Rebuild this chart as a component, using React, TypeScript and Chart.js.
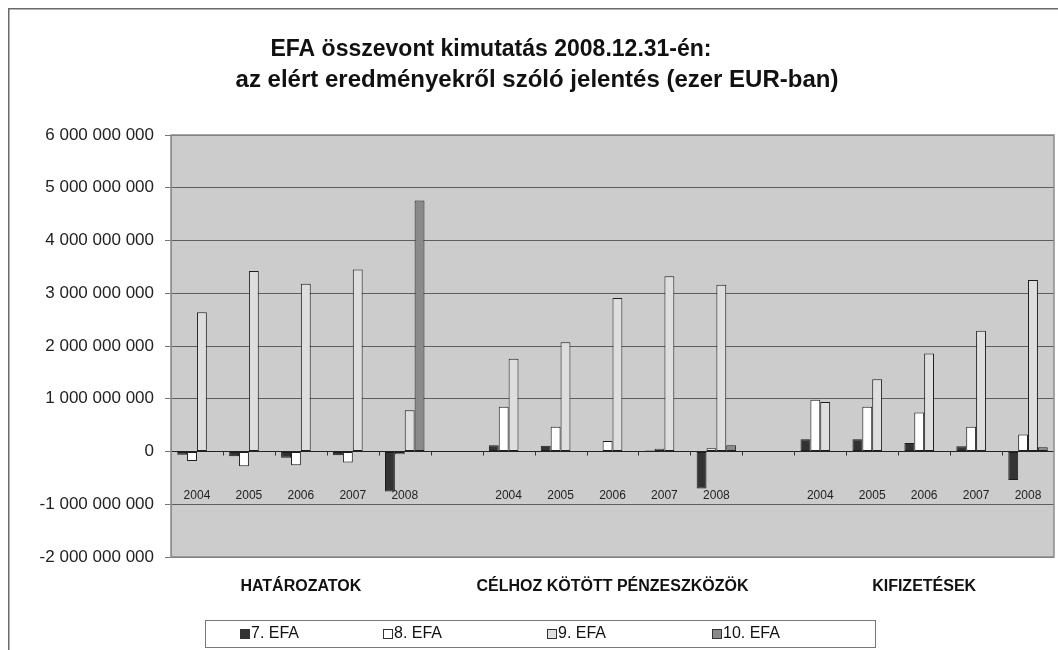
import React, { useEffect, useRef } from 'react';
import { Chart, registerables } from 'chart.js';

Chart.register(...registerables);

const FONT = '"Liberation Sans", Arial, Helvetica, sans-serif';

const TITLE_LINES = [
  'EFA összevont kimutatás 2008.12.31-én:',
  'az elért eredményekről szóló jelentés (ezer EUR-ban)',
];
const GROUPS = ['HATÁROZATOK', 'CÉLHOZ KÖTÖTT PÉNZESZKÖZÖK', 'KIFIZETÉSEK'];
const YEARS = ['2004', '2005', '2006', '2007', '2008'];
const SERIES = ['7. EFA', '8. EFA', '9. EFA', '10. EFA'];
const COLORS = ['#333333', '#ffffff', '#dedede', '#8a8a8a'];

// category order: HATÁROZATOK 2004-2008, gap, CÉLHOZ ... 2004-2008, gap, KIFIZETÉSEK 2004-2008
const EFA7 = [-60e6, -90e6, -120e6, -70e6, -760e6, null, 120e6, 110e6, 10e6, 20e6, -700e6, null, 230e6, 230e6, 160e6, 100e6, -540e6];
const EFA8 = [-180e6, -280e6, -260e6, -210e6, -50e6, null, 850e6, 470e6, 200e6, 50e6, 60e6, null, 980e6, 850e6, 740e6, 470e6, 320e6];
const EFA9 = [2640e6, 3420e6, 3180e6, 3450e6, 780e6, null, 1760e6, 2070e6, 2910e6, 3320e6, 3160e6, null, 940e6, 1370e6, 1860e6, 2290e6, 3250e6];
const EFA10 = [null, null, null, null, 4760e6, null, null, null, null, null, 120e6, null, null, null, null, null, 80e6];

const Y_MIN = -2e9;
const Y_MAX = 6e9;
const Y_STEP = 1e9;

const CATEGORIES: string[] = [];
GROUPS.forEach((g, gi) => {
  if (gi > 0) CATEGORIES.push('');
  YEARS.forEach((y) => CATEGORIES.push(y));
});

const fmt = (v: number) => Math.round(v).toString().replace(/\B(?=(\d{3})+(?!\d))/g, ' ');

const decor = {
  id: 'decor',
  beforeDraw(chart: any) {
    const { ctx, chartArea: a, width, height } = chart;
    ctx.save();
    ctx.fillStyle = '#ffffff';
    ctx.fillRect(0, 0, width, height);
    ctx.fillStyle = '#cccccc';
    ctx.fillRect(a.left, a.top, a.right - a.left, a.bottom - a.top);
    ctx.strokeStyle = '#6a6a6a';
    ctx.lineWidth = 1.5;
    ctx.beginPath();
    ctx.moveTo(8.75, height);
    ctx.lineTo(8.75, 8.75);
    ctx.lineTo(width, 8.75);
    ctx.stroke();
    ctx.restore();
  },
  afterDraw(chart: any) {
    const { ctx, chartArea: a } = chart;
    const xs = chart.scales.x;
    const ys = chart.scales.y;
    const y0 = ys.getPixelForValue(0);
    ctx.save();
    // plot border
    ctx.strokeStyle = '#8c8c8c';
    ctx.lineWidth = 1.5;
    ctx.strokeRect(a.left, a.top, a.right - a.left, a.bottom - a.top);
    // category tick marks at zero line
    ctx.strokeStyle = '#333';
    ctx.lineWidth = 1;
    for (let i = 1; i < CATEGORIES.length; i++) {
      const x = Math.round((xs.getPixelForValue(i - 1) + xs.getPixelForValue(i)) / 2) + 0.5;
      ctx.beginPath();
      ctx.moveTo(x, y0);
      ctx.lineTo(x, y0 + 4);
      ctx.stroke();
    }
    // year labels
    ctx.fillStyle = '#222';
    ctx.font = `12px ${FONT}`;
    ctx.textAlign = 'center';
    ctx.textBaseline = 'middle';
    CATEGORIES.forEach((c, i) => {
      if (c) ctx.fillText(c, xs.getPixelForValue(i), y0 + 44);
    });
    // group labels
    ctx.fillStyle = '#111';
    ctx.font = `bold 16px ${FONT}`;
    GROUPS.forEach((g, gi) => {
      const idx = gi * (YEARS.length + 1) + Math.floor(YEARS.length / 2);
      ctx.fillText(g, xs.getPixelForValue(idx), 587);
    });
    // title
    ctx.fillStyle = '#111';
    ctx.font = `bold 23px ${FONT}`;
    ctx.fillText(TITLE_LINES[0], 491, 50);
    ctx.font = `bold 24px ${FONT}`;
    ctx.fillText(TITLE_LINES[1], 537, 80);
    // legend
    ctx.fillStyle = '#fff';
    ctx.fillRect(205, 620, 670, 27);
    ctx.strokeStyle = '#777';
    ctx.lineWidth = 1;
    ctx.strokeRect(205.5, 620.5, 670, 27);
    const lx = [240, 383, 547, 712];
    ctx.font = `16px ${FONT}`;
    ctx.textAlign = 'left';
    chart.data.datasets.forEach((ds: any, i: number) => {
      const x = lx[i];
      ctx.fillStyle = ds.backgroundColor;
      ctx.fillRect(x, 629, 9, 9);
      ctx.strokeStyle = '#333';
      ctx.strokeRect(x + 0.5, 629.5, 9, 9);
      ctx.fillStyle = '#111';
      ctx.fillText(ds.label, x + 11, 634);
    });
    ctx.restore();
  },
};

export default function App() {
  const ref = useRef<HTMLCanvasElement>(null);
  useEffect(() => {
    const seriesData = [EFA7, EFA8, EFA9, EFA10];
    const chart = new Chart(ref.current as HTMLCanvasElement, {
      type: 'bar',
      data: {
        labels: CATEGORIES,
        datasets: SERIES.map((s, i) => ({
          label: s,
          data: seriesData[i] as any,
          backgroundColor: COLORS[i],
          borderColor: '#1e1e1e',
          borderWidth: 1,
          borderSkipped: false,
          categoryPercentage: 0.76,
          barPercentage: 1,
        })),
      },
      options: {
        responsive: false,
        animation: false,
        devicePixelRatio: 1,
        layout: { padding: { top: 135, bottom: 93, left: 0, right: 4 } },
        plugins: {
          legend: { display: false },
          title: { display: false },
          tooltip: { enabled: false },
        },
        scales: {
          x: {
            display: false,
          },
          y: {
            min: Y_MIN,
            max: Y_MAX,
            ticks: {
              stepSize: Y_STEP,
              callback: (v: any) => fmt(Number(v)),
              font: { family: FONT, size: 17 },
              color: '#222',
              padding: 11,
            },
            grid: {
              color: (c: any) => (c.tick && c.tick.value === 0 ? '#222' : '#5e5e5e'),
              tickLength: 6,
              tickColor: '#777',
              lineWidth: 1,
            },
            border: { display: true, color: '#8c8c8c' },
            afterFit: (s: any) => {
              s.width = 171;
            },
          },
        },
      },
      plugins: [decor],
    });
    return () => chart.destroy();
  }, []);
  return (
    <div style={{ position: 'absolute', left: 0, top: 0, width: 1058, height: 650 }}>
      <canvas ref={ref} width={1058} height={650} style={{ display: 'block', width: 1058, height: 650 }} />
    </div>
  );
}
